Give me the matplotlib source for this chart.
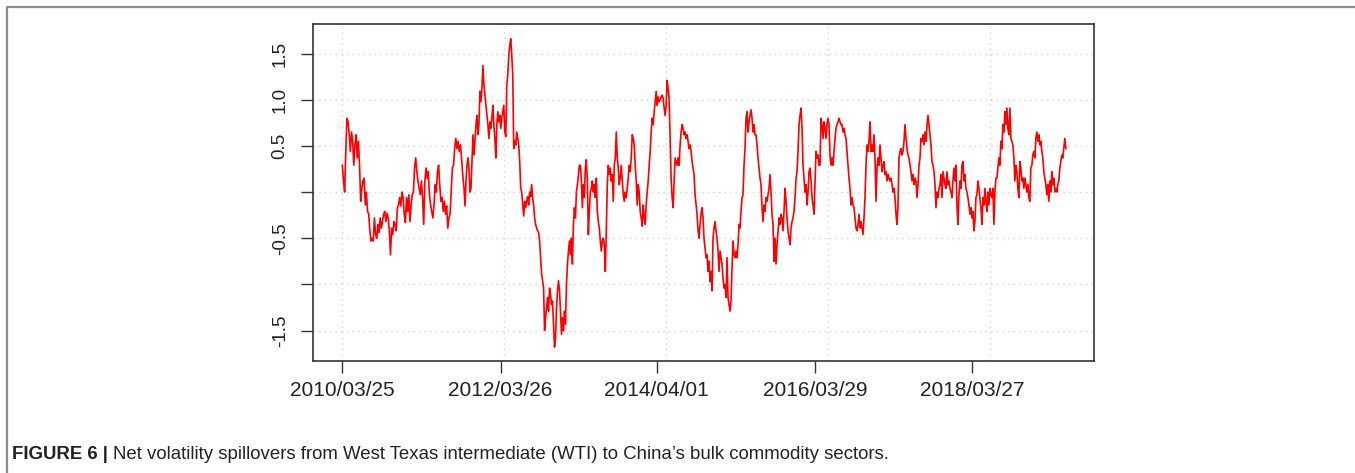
import numpy as np
import matplotlib
matplotlib.use("Agg")
import matplotlib.pyplot as plt
from matplotlib.lines import Line2D

# ---- data: net volatility spillover WTI -> China bulk commodities ----
# each segment: (first obs index, last obs index) and the values read along it
seg1_span = (2, 366)
seg1 = [0.29, 0.12, 0.0, 0.44, 0.80, 0.76, 0.62, 0.44, 0.65, 0.55,
        0.29, 0.51, 0.62, 0.37, 0.55, 0.29, -0.10, 0.04, 0.12, 0.15,
        -0.14, 0.0, -0.21, -0.24, -0.42, -0.53, -0.50, -0.53, -0.28, -0.46,
        -0.50, -0.35, -0.44, -0.28, -0.39, -0.32, -0.24, -0.21, -0.32, -0.23,
        -0.28, -0.42, -0.68, -0.39, -0.46, -0.32, -0.35, -0.42, -0.17, -0.14,
        -0.06, -0.15, 0.0, -0.06, -0.24, -0.33, -0.06, -0.21, -0.03, -0.32,
        -0.14, -0.03, 0.0, 0.26, 0.37, 0.22, 0.12, 0.04, -0.03, 0.12,
        -0.06, -0.35, 0.12, 0.26, 0.15, 0.22, -0.03, -0.14, -0.21, -0.28,
        -0.14, 0.08, 0.0, 0.22, 0.29, 0.08, -0.10, -0.06, -0.21, -0.10,
        -0.24, -0.15, -0.39, -0.28, -0.24, 0.0, 0.26, 0.29, 0.47, 0.58,
        0.47, 0.55, 0.44, 0.51]

seg2_span = (368, 733)
seg2 = [0.44, 0.29, 0.15, 0.04, -0.15, 0.12, 0.29, 0.37, 0.26, 0.0,
        0.04, 0.33, 0.62, 0.40, 0.55, 0.73, 0.83, 0.62, 0.73, 1.09,
        0.98, 1.12, 1.37, 1.16, 1.05, 0.94, 0.83, 0.73, 0.58, 0.76,
        0.69, 0.80, 0.94, 0.73, 0.58, 0.37, 0.73, 0.87, 0.76, 0.83,
        0.69, 0.80, 0.87, 0.94, 0.65, 0.60, 1.16, 1.27, 1.48, 1.59,
        1.66, 1.48, 1.27, 0.47, 0.55, 0.51, 0.65, 0.58, 0.51, 0.33,
        0.04, 0.0, -0.14, -0.26, -0.10, -0.17, -0.10, -0.05, -0.14, 0.0,
        -0.05, 0.08, -0.06, -0.15, -0.28, -0.35, -0.39, -0.42, -0.44, -0.53,
        -0.71, -0.89, -0.96, -1.04, -1.50, -1.36, -1.25, -1.14, -1.29, -1.04,
        -1.11, -1.22, -1.18, -1.43, -1.68, -1.58, -1.25, -1.07, -0.96, -1.07,
        -1.29, -1.54, -1.36, -1.50, -1.29, -1.43, -1.0, -0.78, -0.64, -0.53,
        -0.68, -0.50, -0.78, -0.35, -0.17, -0.28, 0.0, 0.08, 0.19, 0.29]

seg3_span = (736, 1102)
seg3 = [0.29, 0.12, -0.17, 0.08, -0.06, 0.26, 0.35, 0.12, -0.46, -0.21,
        0.0, 0.04, 0.12, 0.0, 0.08, -0.06, 0.15, -0.21, -0.32, -0.39,
        -0.53, -0.64, -0.53, -0.50, -0.57, -0.86, -0.42, 0.08, 0.29, 0.19,
        0.26, 0.12, 0.19, -0.10, 0.29, 0.37, 0.65, 0.37, 0.26, 0.08,
        0.15, 0.29, 0.12, -0.03, -0.10, 0.0, -0.06, 0.04, 0.15, 0.29,
        0.22, 0.37, 0.62, 0.58, 0.51, 0.29, 0.12, -0.14, 0.08, 0.0,
        -0.21, -0.28, -0.37, -0.14, -0.28, -0.35, -0.14, 0.0, 0.12, 0.29,
        0.44, 0.65, 0.80, 0.73, 0.87, 0.98, 1.09, 0.94, 1.03, 0.98,
        1.0, 1.03, 1.05, 1.01, 0.91, 0.83, 0.94, 1.21, 1.12, 1.01,
        0.58, 0.15, -0.06, -0.17, 0.12, 0.37, 0.33, 0.29, 0.37, 0.29,
        0.51, 0.65, 0.73, 0.69, 0.62, 0.65, 0.58, 0.62, 0.55, 0.47,
        0.51, 0.44, 0.33, 0.26, 0.19, -0.03, -0.14, -0.24, -0.42, -0.50]

seg4_span = (1105, 1472)
seg4 = [-0.35, -0.24, -0.17, -0.28, -0.50, -0.61, -0.71, -0.68, -0.86, -0.75,
        -0.97, -0.86, -1.07, -0.50, -0.39, -0.32, -0.42, -0.50, -0.64, -0.86,
        -0.64, -0.71, -0.78, -0.93, -1.04, -1.0, -1.14, -0.71, -1.14, -1.22,
        -1.29, -1.18, -0.82, -0.53, -0.68, -0.71, -0.64, -0.71, -0.57, -0.35,
        -0.39, -0.21, -0.06, -0.03, 0.29, 0.47, 0.80, 0.87, 0.65, 0.76,
        0.83, 0.89, 0.80, 0.65, 0.73, 0.62, 0.62, 0.51, 0.37, 0.26,
        0.15, 0.08, -0.17, -0.32, -0.14, -0.21, -0.06, -0.10, -0.03, 0.04,
        0.19, 0.0, -0.24, -0.35, -0.75, -0.50, -0.78, -0.57, -0.42, -0.28,
        -0.35, -0.24, -0.28, -0.42, -0.21, 0.04, -0.10, -0.28, -0.42, -0.50,
        -0.57, -0.39, -0.32, -0.28, -0.21, -0.06, 0.15, 0.22, 0.44, 0.73,
        0.83, 0.91, 0.69, 0.29, 0.15, 0.0, 0.08, -0.14, 0.0, 0.22,
        0.26, 0.12, -0.06, -0.14, -0.24, 0.12, 0.44, 0.37, 0.40, 0.29]

seg5_span = (1475, 1842)
seg5 = [0.29, 0.80, 0.73, 0.58, 0.76, 0.69, 0.58, 0.73, 0.80, 0.73,
        0.40, 0.29, 0.37, 0.29, 0.44, 0.58, 0.69, 0.73, 0.76, 0.80,
        0.76, 0.73, 0.73, 0.65, 0.69, 0.62, 0.58, 0.44, 0.29, 0.15,
        0.04, -0.14, -0.06, -0.14, -0.17, -0.28, -0.39, -0.42, -0.35, -0.24,
        -0.39, -0.32, -0.39, -0.46, -0.28, -0.06, 0.29, 0.51, 0.44, 0.55,
        0.76, 0.44, 0.51, 0.44, 0.62, 0.37, -0.10, 0.26, 0.37, 0.29,
        0.51, 0.37, 0.22, 0.29, 0.33, 0.19, 0.22, 0.12, 0.19, 0.15,
        0.12, 0.15, 0.08, 0.0, 0.04, -0.06, -0.24, -0.35, -0.14, 0.37,
        0.44, 0.47, 0.40, 0.44, 0.55, 0.73, 0.58, 0.47, 0.40, 0.37,
        0.29, 0.22, 0.12, 0.19, 0.08, 0.15, 0.12, -0.06, 0.08, 0.29,
        0.37, 0.58, 0.55, 0.62, 0.51, 0.65, 0.55, 0.73, 0.83, 0.73,
        0.62, 0.51, 0.33, 0.29, 0.22, 0.08, -0.17, 0.0, -0.06, 0.04]

seg6_span = (1845, 2233)
seg6 = [0.08, 0.19, -0.06, 0.22, 0.15, 0.08, 0.04, 0.22, 0.08, 0.12,
        0.04, 0.0, -0.06, 0.12, 0.26, 0.12, 0.29, -0.14, -0.35, -0.03,
        0.12, 0.04, 0.29, 0.33, 0.12, 0.19, 0.04, 0.0, -0.06, -0.14,
        -0.24, -0.17, -0.28, -0.21, -0.42, -0.32, -0.06, -0.03, 0.12, 0.04,
        -0.06, -0.17, -0.35, -0.06, -0.14, 0.04, -0.10, -0.21, 0.0, -0.14,
        0.04, -0.03, -0.06, 0.04, -0.35, 0.0, 0.15, 0.15, 0.26, 0.37,
        0.29, 0.55, 0.47, 0.73, 0.65, 0.87, 0.73, 0.91, 0.69, 0.62,
        0.91, 0.58, 0.55, 0.51, 0.37, 0.12, 0.29, 0.22, 0.04, -0.06,
        0.33, 0.26, 0.12, 0.15, 0.04, 0.15, 0.08, 0.0, 0.08, -0.06,
        -0.10, 0.26, 0.29, 0.40, 0.44, 0.37, 0.58, 0.65, 0.55, 0.62,
        0.51, 0.55, 0.44, 0.37, 0.22, 0.15, 0.08, -0.03, 0.08, -0.10,
        0.12, 0.0, 0.22, 0.08, 0.15, 0.0, 0.04, 0.0, 0.08, 0.12,
        0.26, 0.33, 0.40, 0.37, 0.47, 0.58, 0.47]

date_tick_obs = [1, 490, 971, 1461, 1945]
date_labels = ["2010/03/25", "2012/03/26", "2014/04/01", "2016/03/29", "2018/03/27"]

y_ticks = [-1.5, -1.0, -0.5, 0.0, 0.5, 1.0, 1.5]
y_labels = ["-1.5", "", "-0.5", "", "0.5", "1.0", "1.5"]
grid_x = [0, 500, 1000, 1500, 2000]

caption_bold = "FIGURE 6 |"
caption_rest = "Net volatility spillovers from West Texas intermediate (WTI) to China\u2019s bulk commodity sectors."

# ---- build series ----
segments = [(seg1_span, seg1), (seg2_span, seg2), (seg3_span, seg3),
            (seg4_span, seg4), (seg5_span, seg5), (seg6_span, seg6)]
obs = np.concatenate([np.linspace(a, b, len(v)) for (a, b), v in segments])
vals = np.concatenate([np.asarray(v, float) for _, v in segments])

plt.rcParams['font.family'] = ['Liberation Sans', 'DejaVu Sans']

W, H = 1355, 473
fig = plt.figure(figsize=(W / 100, H / 100), dpi=100)
fig.patch.set_facecolor("white")

# axes placement (pixels)
L, R_, T, B = 313, 1094, 24, 361
ax = fig.add_axes([L / W, 1 - B / H, (R_ - L) / W, (B - T) / H])

for gx in grid_x:
    ax.axvline(gx, color="#d3d3d3", lw=1.0, ls=(0, (1, 3)), zorder=1)
for gy in y_ticks:
    ax.axhline(gy, color="#d3d3d3", lw=1.0, ls=(0, (1, 3)), zorder=1)

ax.plot(obs, vals, color="#ff0000", lw=1.2, zorder=3)

ax.set_xlim(-88.5, 2320)
ax.set_ylim(-1.83, 1.82)

ax.set_yticks(y_ticks)
ax.set_yticklabels(y_labels, rotation=90, va="center", fontsize=13.5, color="#222222")
ax.set_xticks(date_tick_obs)
ax.set_xticklabels(date_labels, fontsize=15, color="#222222")

ax.tick_params(axis="both", direction="out", length=8.5, width=1.0, color="#333333")
ax.tick_params(axis="y", pad=9)
ax.tick_params(axis="x", pad=6)

for s in ax.spines.values():
    s.set_color("#333333")
    s.set_linewidth(1.2)

# outer panel frame (top and left borders)
fx = 7.5 / W
fy = 1 - 7.5 / H
fig.add_artist(Line2D([fx, fx, 1.0], [0.0, fy, fy], transform=fig.transFigure,
                      color="#8c8c8c", lw=1.6))

# caption
cap_size = 13.4
t1 = fig.text(12 / W, 1 - 454 / H, caption_bold, fontsize=cap_size, fontweight="bold",
              color="#222222", va="center", ha="left")
fig.canvas.draw()
bb = t1.get_window_extent(fig.canvas.get_renderer())
fig.text((bb.x1 + 5) / W, 1 - 454 / H, caption_rest, fontsize=cap_size,
         color="#222222", va="center", ha="left")

fig.savefig("out.png", dpi=100, facecolor="white")
